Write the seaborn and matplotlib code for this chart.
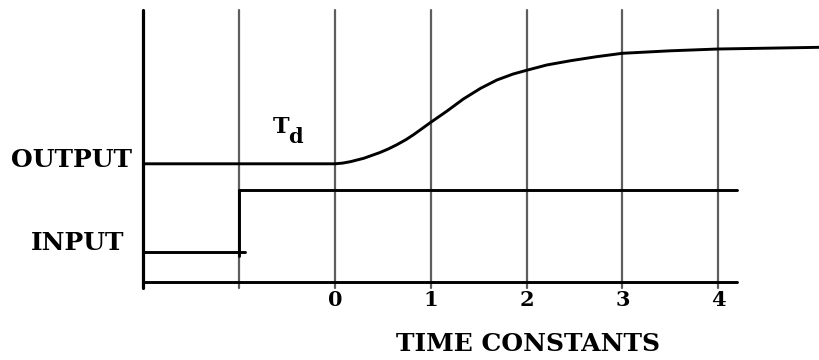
import matplotlib
matplotlib.use("Agg")
import matplotlib.pyplot as plt
import seaborn as sns
import pandas as pd

# ---- data (time in time constants, levels in arbitrary units above baseline) ----
grid_times = [-1, 0, 1, 2, 3, 4]
tick_times = [0, 1, 2, 3, 4]
tick_labels = ["0", "1", "2", "3", "4"]

input_low_t = [-2, -0.94]
input_low = [30, 30]
input_step_t = [-1, -1]
input_step = [26, 92]
input_high_t = [-1, 4.2]
input_high = [92, 92]

output_t = [-2, 0, 0.08, 0.16, 0.30, 0.47, 0.56, 0.65, 0.74, 0.82, 1.0, 1.17, 1.34,
            1.52, 1.69, 1.86, 2.0, 2.21, 2.46, 2.73, 3.0, 3.5, 4.0, 5.07]
output_v = [118.5, 118.5, 119.2, 120.6, 124, 129.8, 133.5, 137.8, 142.6, 147.6, 160,
            171.3, 183.3, 194, 202.3, 208.3, 212, 217.3, 221.6, 225.6, 229, 231.5,
            233.3, 235]

baseline_t = [-2, 4.2]
baseline_v = [0, 0]

sns.set_style("white")
plt.rcParams["font.family"] = ["DejaVu Serif"]
plt.rcParams["text.color"] = "black"

fig = plt.figure(figsize=(8.2, 3.6), dpi=100)
ax = fig.add_axes([0, 0, 1, 1])
ax.set_xlim(-3.497, 5.063)
ax.set_ylim(-77.7, 282.3)
ax.axis("off")

grey = "#5e5e5e"
# vertical grid lines
for t in grid_times:
    df = pd.DataFrame({"t": [t, t], "v": [-5.5, 272]})
    sns.lineplot(data=df, x="t", y="v", ax=ax, color=grey, lw=1.6, sort=False,
                 estimator=None)
# left axis
sns.lineplot(data=pd.DataFrame({"t": [-2, -2], "v": [-5.5, 272]}), x="t", y="v",
             ax=ax, color="black", lw=2.3, sort=False, estimator=None)
# baseline
sns.lineplot(data=pd.DataFrame({"t": baseline_t, "v": baseline_v}), x="t", y="v",
             ax=ax, color="black", lw=2.1, sort=False, estimator=None)

# input
for tt, vv in [(input_low_t, input_low), (input_step_t, input_step),
               (input_high_t, input_high)]:
    sns.lineplot(data=pd.DataFrame({"t": tt, "v": vv}), x="t", y="v", ax=ax,
                 color="black", lw=2.1, sort=False, estimator=None)

# output
sns.lineplot(data=pd.DataFrame({"t": output_t, "v": output_v}), x="t", y="v",
             ax=ax, color="black", lw=2.1, sort=False, estimator=None)

# tick labels
for t, lab in zip(tick_times, tick_labels):
    ax.text(t, -17.7, lab, ha="center", va="center", fontsize=15,
            fontweight="bold", family=["DejaVu Serif"], color="black")

ax.text(2.01, -61.5, "TIME CONSTANTS", ha="center", va="center", fontsize=18,
        fontweight="bold", family=["DejaVu Serif"], color="black")
ax.text(-2.12, 122.3, "OUTPUT", ha="right", va="center", fontsize=18,
        fontweight="bold", family=["DejaVu Serif"], color="black")
ax.text(-2.2, 39.6, "INPUT", ha="right", va="center", fontsize=18,
        fontweight="bold", family=["DejaVu Serif"], color="black")
ax.text(-0.65, 149.3, "T", ha="left", va="baseline", fontsize=16,
        fontweight="bold", family=["DejaVu Serif"], color="black")
ax.text(-0.49, 139.3, "d", ha="left", va="baseline", fontsize=15,
        fontweight="bold", family=["DejaVu Serif"], color="black")

fig.savefig("out.png", dpi=100)
